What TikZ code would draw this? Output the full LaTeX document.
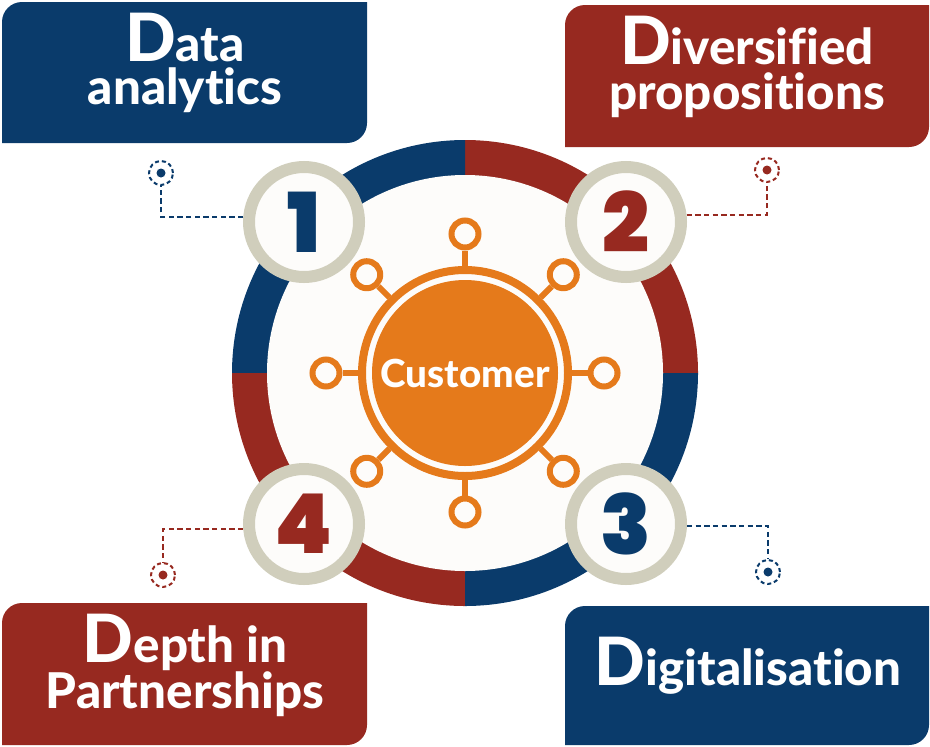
\documentclass[tikz,border=0pt]{standalone}
\usepackage{fontspec}
\setmainfont{Lato}
\newfontfamily\titlefont{Lato Heavy}[Ligatures = NoCommon]
\newfontfamily\numfont{Poppins Black}
\usetikzlibrary{positioning,calc}

\definecolor{dblue}{HTML}{0A3B6B}
\definecolor{dred}{HTML}{972920}
\definecolor{corange}{HTML}{E57A1B}
\definecolor{beige}{HTML}{D0CEBC}
\definecolor{paper}{HTML}{FDFCFA}

\begin{document}
\begin{tikzpicture}[
        x = 0.75pt, % one unit is one pixel
        y = 0.75pt,
        semithick % line style
        ]

        \tikzset{
        numcirc/.style = {circle, draw = beige, line width = 9pt, fill = paper,
            minimum size = 82.5pt, inner sep = 0pt,
            font = \numfont\fontsize{62}{62}\selectfont},
        marker/.style = {circle, draw, line width = 1.5pt,
            dash pattern = on 3pt off 2.2pt, minimum size = 18pt, inner sep = 0pt},
        link/.style = {line width = 1.5pt, dash pattern = on 4pt off 2.5pt},
        sat/.style = {circle, draw = corange, line width = 4.5pt, fill = paper,
            minimum size = 20.25pt, inner sep = 0pt},
        spoke/.style = {draw = corange, line width = 4.5pt},
        title/.style = {text = white, anchor = base, inner sep = 0pt,
            font = \titlefont\fontsize{37}{37}\selectfont}
        }

        \useasboundingbox (0,0) rectangle (930,-746);

        % the four cards
        \fill[dblue] (2,-143) -- (2,-22) arc[start angle=180, end angle=90, radius=20]
            -- (367,-2) -- (367,-123) arc[start angle=0, end angle=-90, radius=20] -- cycle;
        \fill[dred] (565,-147) -- (565,-25) arc[start angle=180, end angle=90, radius=20]
            -- (929,-5) -- (929,-127) arc[start angle=0, end angle=-90, radius=20] -- cycle;
        \fill[dred] (2,-745) -- (2,-623) arc[start angle=180, end angle=90, radius=20]
            -- (367,-603) -- (367,-725) arc[start angle=0, end angle=-90, radius=20] -- cycle;
        \fill[dblue] (565,-745) -- (565,-626) arc[start angle=180, end angle=90, radius=20]
            -- (929,-606) -- (929,-725) arc[start angle=0, end angle=-90, radius=20] -- cycle;

        \node[title] (t1a) at (185,-61) {{\fontsize{50}{50}\selectfont D}ata};
        \node[title] (t1b) at (185,-104) {analytics};
        \node[title] (t2a) at (747,-64) {{\fontsize{50}{50}\selectfont D}iversified};
        \node[title] (t2b) at (747,-109) {propositions};
        \node[title] (t4a) at (185,-662) {{\fontsize{50}{50}\selectfont D}epth in};
        \node[title] (t4b) at (185,-708) {Partnerships};
        \node[title] (t3) at (748,-685) {{\fontsize{50}{50}\selectfont D}igitalisation};

        % big ring
        \coordinate (c) at (465,-373);
        \foreach \a/\col in {0/dred, 90/dblue, 180/dred, 270/dblue}
            \fill[\col] (c) -- ++(\a:233) arc[start angle=\a, end angle=\a+90, radius=233] -- cycle;
        \fill[paper] (c) circle[radius=198];

        % customer hub
        \node[circle, fill = corange, minimum size = 139.5pt, text = white,
            font = \titlefont\fontsize{29}{29}\selectfont] (cust) at (c) {Customer};
        \node[circle, draw = corange, line width = 6pt, minimum size = 154.5pt] (hub) at (c) {};
        \foreach \a in {0,45,...,315} {
            \node[sat] (s\a) at ($(c)+(\a:139)$) {};
            \draw[spoke] (hub.\a) -- (s\a);
        }

        % numbered steps
        \node[numcirc, text = dblue] (n1) at ($(c)+(-161,151)$) {1};
        \node[numcirc, text = dred] (n2) at ($(c)+(161,151)$) {2};
        \node[numcirc, text = dblue] (n3) at ($(c)+(161,-151)$) {3};
        \node[numcirc, text = dred] (n4) at ($(c)+(-161,-151)$) {4};

        % dashed pointers
        \node[marker, draw = dblue] (m1) at (161,-173) {};
        \node[marker, draw = dred] (m2) at (767,-170) {};
        \node[marker, draw = dblue] (m3) at (768,-572) {};
        \node[marker, draw = dred] (m4) at (163,-575) {};
        \fill[dblue] (m1) circle[radius=4.5];
        \fill[dred] (m2) circle[radius=4.5];
        \fill[dblue] (m3) circle[radius=4.5];
        \fill[dred] (m4) circle[radius=4.5];

        \draw[link, dblue] (n1.175) -| (m1.south);
        \draw[link, dred] (n2.7) -| (m2.south);
        \draw[link, dblue] (n3.358) -| (m3.north);
        \draw[link, dred] (n4.185) -| (m4.north);

      \end{tikzpicture}
\end{document}
